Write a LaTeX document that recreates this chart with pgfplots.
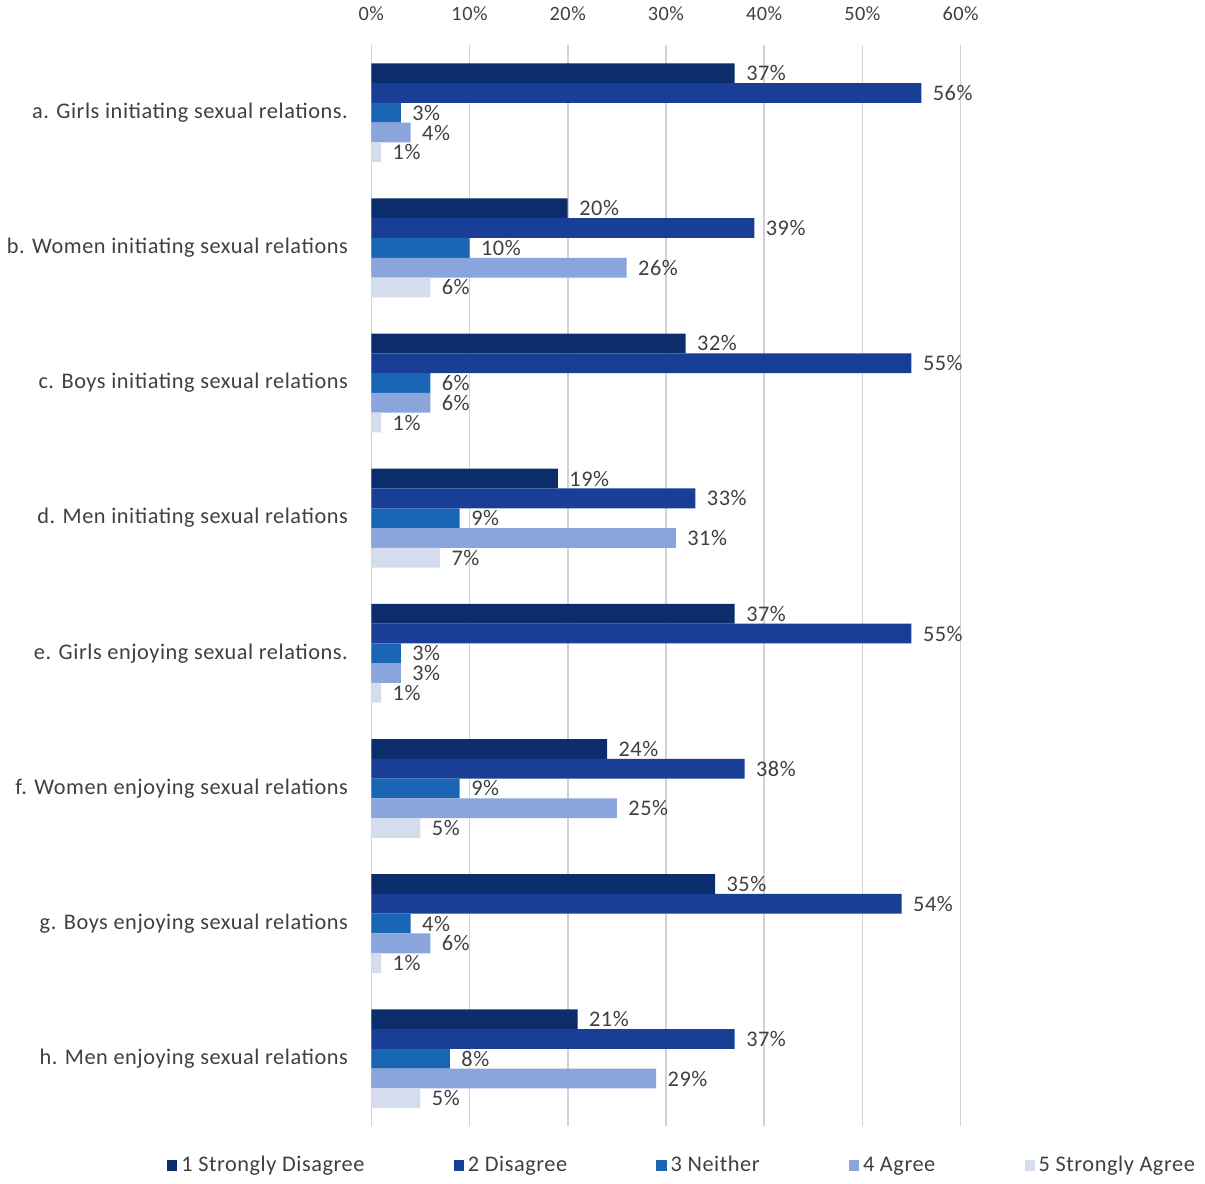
\documentclass[border=0pt]{standalone}
\usepackage{fontspec}
\setmainfont{Carlito}[LetterSpace=2.5]
\usepackage{pgfplots}
\pgfplotsset{compat=1.18}
\definecolor{cA}{HTML}{0C2D6B}
\definecolor{cB}{HTML}{193E95}
\definecolor{cC}{HTML}{1B65B5}
\definecolor{cD}{HTML}{8AA5DB}
\definecolor{cE}{HTML}{D5DCED}
\definecolor{txt}{HTML}{404040}
\begin{document}
\begin{tikzpicture}
\begin{axis}[
  scale only axis,
  width=290.5pt, height=533pt,
  xmin=0, xmax=60, ymin=-0.5, ymax=7.5,
  xbar=0pt, bar width=9.75pt,
  axis line style={draw=none},
  major tick length=0pt,
  xtick={0,10,...,60},
  xticklabel pos=top,
  xticklabel={\pgfmathprintnumber{\tick}\%},
  xmajorgrids, grid style={gray!35, line width=0.8pt},
  ytick={0,...,7},
  yticklabels={h. Men enjoying sexual relations, g. Boys enjoying sexual relations, f. Women enjoying sexual relations, e. Girls enjoying sexual relations., d. Men initiating sexual relations, c. Boys initiating sexual relations, b. Women initiating sexual relations, a. Girls initiating sexual relations.},
  yticklabel style={font=\fontsize{11}{13}\selectfont, text=txt, xshift=-8pt},
  xticklabel style={font=\fontsize{10}{12}\selectfont, text=txt, yshift=8.5pt},
  /pgf/number format/assume math mode=true,
  nodes near coords={\pgfmathprintnumber{\pgfplotspointmeta}\%},
  nodes near coords style={font=\fontsize{11}{13}\selectfont, text=txt, anchor=west, inner sep=2pt, xshift=3.5pt},
  every axis plot/.append style={draw=none},
  legend columns=5,
  legend style={at={(0.529,-0.02)}, anchor=north, draw=none, font=\fontsize{11}{13}\selectfont, text=txt,
    /tikz/every even column/.append style={column sep=42pt}},
  legend image code/.code={\fill[#1] (0pt,-2.8pt) rectangle (5pt,2.8pt);},
]
\addplot[fill=cA, bar shift=19.5pt] coordinates {(37,7) (20,6) (32,5) (19,4) (37,3) (24,2) (35,1) (21,0)};
\addplot[fill=cB, bar shift=9.75pt] coordinates {(56,7) (39,6) (55,5) (33,4) (55,3) (38,2) (54,1) (37,0)};
\addplot[fill=cC, bar shift=0pt] coordinates {(3,7) (10,6) (6,5) (9,4) (3,3) (9,2) (4,1) (8,0)};
\addplot[fill=cD, bar shift=-9.75pt] coordinates {(4,7) (26,6) (6,5) (31,4) (3,3) (25,2) (6,1) (29,0)};
\addplot[fill=cE, bar shift=-19.5pt] coordinates {(1,7) (6,6) (1,5) (7,4) (1,3) (5,2) (1,1) (5,0)};
\legend{1 Strongly Disagree, 2 Disagree, 3 Neither, 4 Agree, 5 Strongly Agree}
\end{axis}
\end{tikzpicture}
\end{document}
